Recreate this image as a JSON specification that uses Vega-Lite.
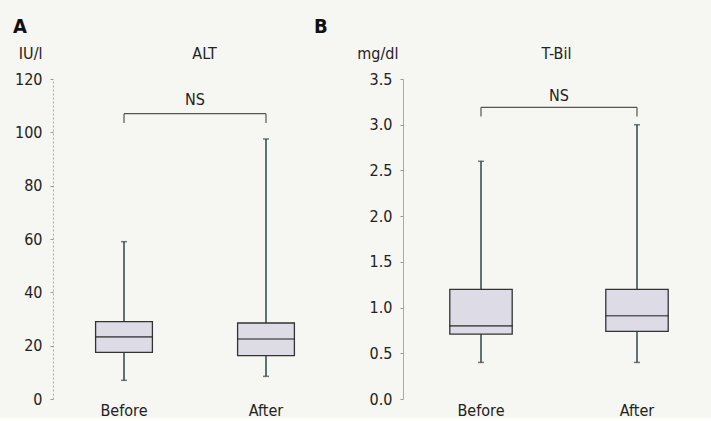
{
  "$schema": "https://vega.github.io/schema/vega-lite/v6.json",
  "background": "#f6f6f3",
  "padding": {"left": 13, "top": 17, "right": 0, "bottom": 0},
  "bounds": "flush",
  "spacing": 66,
  "config": {
    "font": "Liberation Sans Narrow, DejaVu Sans Condensed, Roboto, sans-serif",
    "view": {"stroke": null},
    "axis": {
      "labelFont": "Liberation Sans Narrow, DejaVu Sans Condensed, Roboto, sans-serif",
      "titleFont": "Liberation Sans Narrow, DejaVu Sans Condensed, Roboto, sans-serif",
      "labelFontSize": 16, "titleFontSize": 16, "titleFontWeight": "normal",
      "labelColor": "#222", "titleColor": "#222", "grid": false
    },
    "title": {
      "font": "Liberation Sans Narrow, DejaVu Sans Condensed, Roboto, sans-serif",
      "fontSize": 20, "fontWeight": "bold", "color": "#111"
    },
    "text": {"font": "Liberation Sans Narrow, DejaVu Sans Condensed, Roboto, sans-serif"}
  },
  "datasets": {
    "alt": [
      {"group": "Before", "min": 7, "q1": 17.5, "median": 23.3, "q3": 29, "max": 59},
      {"group": "After", "min": 8.5, "q1": 16.3, "median": 22.5, "q3": 28.5, "max": 97.5}
    ],
    "altNS": [
      {"label": "NS", "from": "Before", "to": "After", "top": 107, "end": 103.5, "ty": 112}
    ],
    "tbil": [
      {"group": "Before", "min": 0.4, "q1": 0.71, "median": 0.8, "q3": 1.2, "max": 2.6},
      {"group": "After", "min": 0.4, "q1": 0.74, "median": 0.91, "q3": 1.2, "max": 3.0}
    ],
    "tbilNS": [
      {"label": "NS", "from": "Before", "to": "After", "top": 3.19, "end": 3.09, "ty": 3.31}
    ]
  },
  "hconcat": [
    {
      "width": 284,
      "height": 320,
      "title": {"text": "A", "anchor": "start", "frame": "group", "dx": -40, "offset": 8},
      "resolve": {"axis": {"x": "independent"}},
      "layer": [
        {
          "data": {"name": "alt"},
          "layer": [
            {
              "mark": {"type": "rule", "color": "#2d4746", "strokeWidth": 1.5},
              "encoding": {
                "x": {"field": "group", "type": "nominal", "title": null,
                  "scale": {"domain": ["Before", "After"], "paddingInner": 0, "paddingOuter": 0},
                  "axis": {"orient": "bottom", "labelAngle": 0, "ticks": false, "domain": false, "labelPadding": 3, "labelBaseline": "top"}},
                "y": {"field": "min", "type": "quantitative", "title": "IU/l",
                  "scale": {"domain": [0, 120], "nice": false},
                  "axis": {"values": [0, 20, 40, 60, 80, 100, 120], "tickSize": 3, "tickColor": "#999", "domainColor": "#aaa", "domainDash": [2, 2], "labelPadding": 8,
                    "titleAngle": 0, "titleAlign": "right", "titleBaseline": "middle", "titleX": -11, "titleY": -26}},
                "y2": {"field": "max"}
              }
            },
            {
              "mark": {"type": "tick", "color": "#2d4746", "size": 6, "thickness": 1.5},
              "encoding": {
                "x": {"field": "group", "type": "nominal", "title": null},
                "y": {"field": "min", "type": "quantitative", "title": "IU/l"}
              }
            },
            {
              "mark": {"type": "tick", "color": "#2d4746", "size": 6, "thickness": 1.5},
              "encoding": {
                "x": {"field": "group", "type": "nominal", "title": null},
                "y": {"field": "max", "type": "quantitative", "title": "IU/l"}
              }
            },
            {
              "mark": {"type": "bar", "width": {"band": 0.4}, "fill": "#dcdbe6", "stroke": "#333", "strokeWidth": 1.3},
              "encoding": {
                "x": {"field": "group", "type": "nominal", "title": null},
                "y": {"field": "q1", "type": "quantitative", "title": "IU/l"},
                "y2": {"field": "q3"}
              }
            },
            {
              "mark": {"type": "tick", "color": "#222", "size": 57, "thickness": 1.6},
              "encoding": {
                "x": {"field": "group", "type": "nominal", "title": null},
                "y": {"field": "median", "type": "quantitative", "title": "IU/l"}
              }
            }
          ]
        },
        {
          "data": {"name": "altNS"},
          "layer": [
            {
              "mark": {"type": "rule", "color": "#555", "strokeWidth": 1.2},
              "encoding": {
                "x": {"field": "from", "type": "nominal", "title": "ALT",
                  "axis": {"orient": "top", "labels": false, "ticks": false, "domain": false, "titleX": 151, "titleY": -26, "titleBaseline": "middle"}},
                "x2": {"field": "to"},
                "y": {"field": "top", "type": "quantitative", "title": "IU/l"}
              }
            },
            {
              "mark": {"type": "rule", "color": "#555", "strokeWidth": 1.2},
              "encoding": {
                "x": {"field": "from", "type": "nominal", "title": "ALT"},
                "y": {"field": "top", "type": "quantitative", "title": "IU/l"},
                "y2": {"field": "end"}
              }
            },
            {
              "mark": {"type": "rule", "color": "#555", "strokeWidth": 1.2},
              "encoding": {
                "x": {"field": "to", "type": "nominal", "title": "ALT"},
                "y": {"field": "top", "type": "quantitative", "title": "IU/l"},
                "y2": {"field": "end"}
              }
            },
            {
              "mark": {"type": "text", "fontSize": 16, "color": "#222", "baseline": "middle"},
              "encoding": {
                "x": {"field": "to", "type": "nominal", "title": "ALT", "bandPosition": 0},
                "y": {"field": "ty", "type": "quantitative", "title": "IU/l"},
                "text": {"field": "label"}
              }
            }
          ]
        }
      ]
    },
    {
      "width": 306,
      "height": 320,
      "title": {"text": "B", "anchor": "start", "frame": "group", "dx": -89, "offset": 8},
      "resolve": {"axis": {"x": "independent"}},
      "layer": [
        {
          "data": {"name": "tbil"},
          "layer": [
            {
              "mark": {"type": "rule", "color": "#2d4746", "strokeWidth": 1.5},
              "encoding": {
                "x": {"field": "group", "type": "nominal", "title": null,
                  "scale": {"domain": ["Before", "After"], "paddingInner": 0, "paddingOuter": 0, "range": [0, 312]},
                  "axis": {"orient": "bottom", "labelAngle": 0, "ticks": false, "domain": false, "labelPadding": 3, "labelBaseline": "top"}},
                "y": {"field": "min", "type": "quantitative", "title": "mg/dl",
                  "scale": {"domain": [0, 3.5], "nice": false},
                  "axis": {"values": [0, 0.5, 1, 1.5, 2, 2.5, 3, 3.5], "format": ".1f", "tickSize": 3, "tickColor": "#999", "domainColor": "#aaa", "labelPadding": 8,
                    "titleAngle": 0, "titleAlign": "right", "titleBaseline": "middle", "titleX": -5, "titleY": -26}},
                "y2": {"field": "max"}
              }
            },
            {
              "mark": {"type": "tick", "color": "#2d4746", "size": 6, "thickness": 1.5},
              "encoding": {
                "x": {"field": "group", "type": "nominal", "title": null},
                "y": {"field": "min", "type": "quantitative", "title": "mg/dl"}
              }
            },
            {
              "mark": {"type": "tick", "color": "#2d4746", "size": 6, "thickness": 1.5},
              "encoding": {
                "x": {"field": "group", "type": "nominal", "title": null},
                "y": {"field": "max", "type": "quantitative", "title": "mg/dl"}
              }
            },
            {
              "mark": {"type": "bar", "width": {"band": 0.4}, "fill": "#dcdbe6", "stroke": "#333", "strokeWidth": 1.3},
              "encoding": {
                "x": {"field": "group", "type": "nominal", "title": null},
                "y": {"field": "q1", "type": "quantitative", "title": "mg/dl"},
                "y2": {"field": "q3"}
              }
            },
            {
              "mark": {"type": "tick", "color": "#222", "size": 63, "thickness": 1.6},
              "encoding": {
                "x": {"field": "group", "type": "nominal", "title": null},
                "y": {"field": "median", "type": "quantitative", "title": "mg/dl"}
              }
            }
          ]
        },
        {
          "data": {"name": "tbilNS"},
          "layer": [
            {
              "mark": {"type": "rule", "color": "#555", "strokeWidth": 1.2},
              "encoding": {
                "x": {"field": "from", "type": "nominal", "title": "T-Bil",
                  "axis": {"orient": "top", "labels": false, "ticks": false, "domain": false, "titleX": 153, "titleY": -26, "titleBaseline": "middle"}},
                "x2": {"field": "to"},
                "y": {"field": "top", "type": "quantitative", "title": "mg/dl"}
              }
            },
            {
              "mark": {"type": "rule", "color": "#555", "strokeWidth": 1.2},
              "encoding": {
                "x": {"field": "from", "type": "nominal", "title": "T-Bil"},
                "y": {"field": "top", "type": "quantitative", "title": "mg/dl"},
                "y2": {"field": "end"}
              }
            },
            {
              "mark": {"type": "rule", "color": "#555", "strokeWidth": 1.2},
              "encoding": {
                "x": {"field": "to", "type": "nominal", "title": "T-Bil"},
                "y": {"field": "top", "type": "quantitative", "title": "mg/dl"},
                "y2": {"field": "end"}
              }
            },
            {
              "mark": {"type": "text", "fontSize": 16, "color": "#222", "baseline": "middle"},
              "encoding": {
                "x": {"field": "to", "type": "nominal", "title": "T-Bil", "bandPosition": 0},
                "y": {"field": "ty", "type": "quantitative", "title": "mg/dl"},
                "text": {"field": "label"}
              }
            }
          ]
        }
      ]
    }
  ]
}
